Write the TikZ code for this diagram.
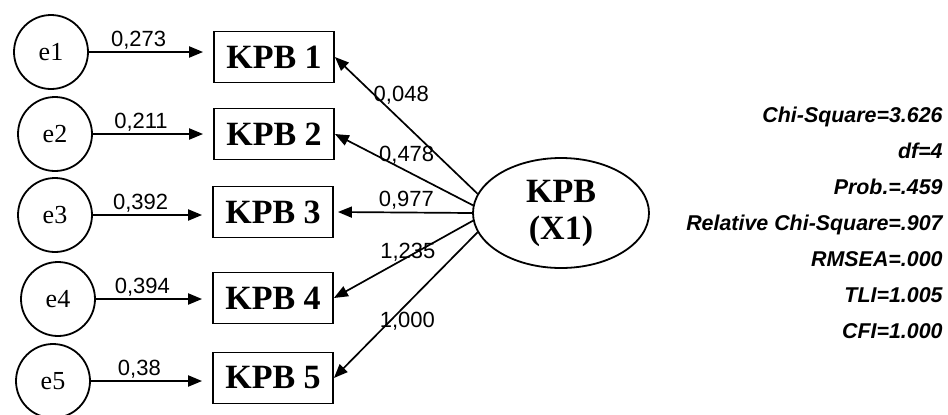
\documentclass[tikz,border=0pt]{standalone}
\usepackage{fontspec}
\setmainfont{Liberation Serif}
\setsansfont{Liberation Sans}
\usetikzlibrary{arrows.meta,shapes.geometric}

\tikzset{
	errcirc/.style={draw, circle, line width=0.9pt, minimum size=37pt, inner sep=0pt, font=\fontsize{13}{15}\selectfont},
	indbox/.style={draw, rectangle, line width=0.9pt, minimum width=60pt, minimum height=25.5pt, inner sep=0pt, font=\bfseries\fontsize{17}{20}\selectfont},
	latent/.style={draw, ellipse, line width=0.9pt, minimum width=88pt, minimum height=55pt, inner sep=0pt, align=center, font=\bfseries\fontsize{17}{18.5}\selectfont},
	resid/.style={line width=1pt, -{Triangle[length=7pt,width=5.5pt]}, shorten >=5pt},
	load/.style={line width=0.85pt, -{Triangle[length=7pt,width=5.5pt]}},
	wt/.style={font=\sffamily\fontsize{11}{13}\selectfont, inner sep=1pt},
	stats/.style={font=\sffamily\bfseries\itshape\fontsize{10.7}{18}\selectfont, align=right, inner sep=0pt}
}

\begin{document}
\begin{tikzpicture}[x=0.5pt, y=-0.5pt]
			%%%%% START %%%%%
			\useasboundingbox (0, 0) rectangle (948, 414);
			
			\node[errcirc] (e1) at (51, 52) {e1};
			\node[errcirc] (e2) at (55, 134) {e2};
			\node[errcirc] (e3) at (55, 215) {e3};
			\node[errcirc] (e4) at (58, 299) {e4};
			\node[errcirc] (e5) at (53, 381) {e5};
			
			\node[indbox] (KPB1) at (274, 57) {KPB 1};
			\node[indbox] (KPB2) at (274, 134) {KPB 2};
			\node[indbox] (KPB3) at (273, 212) {KPB 3};
			\node[indbox] (KPB4) at (273, 298) {KPB 4};
			\node[indbox] (KPB5) at (273, 378) {KPB 5};
			
			\node[latent] (KPB) at (561, 213) {KPB\\(X1)};
			
			\draw[resid] (e1) -- (e1 -| KPB1.west) node[wt, above, pos=0.4] {0,273};
			\draw[resid] (e2) -- (e2 -| KPB2.west) node[wt, above, pos=0.4] {0,211};
			\draw[resid] (e3) -- (e3 -| KPB3.west) node[wt, above, pos=0.4] {0,392};
			\draw[resid] (e4) -- (e4 -| KPB4.west) node[wt, above, pos=0.4] {0,394};
			\draw[resid] (e5) -- (e5 -| KPB5.west) node[wt, above, pos=0.4] {0,38};
			
			\draw[load] (KPB.167) -- (KPB1.east) node[wt, anchor=west, pos=0.72, xshift=-2pt] {0,048};
			\draw[load] (KPB.175) -- (KPB2.east) node[wt, anchor=west, pos=0.70] {0,478};
			\draw[load] (KPB.180) -- ([xshift=2pt]KPB3.east) node[wt, above, pos=0.49] {0,977};
			\draw[load] (KPB.185) -- (KPB4.east) node[wt, anchor=north east, pos=0.25] {1,235};
			\draw[load] (KPB.193) -- (KPB5.east) node[wt, anchor=west, pos=0.61, xshift=-6.5pt] {1,000};
			
			\node[stats, anchor=north east] (fitstat) at (943, 107) {Chi-Square=3.626\\df=4\\Prob.=.459\\Relative Chi-Square=.907\\RMSEA=.000\\TLI=1.005\\CFI=1.000};
			
			%%%%% END %%%%%
\end{tikzpicture}
\end{document}
